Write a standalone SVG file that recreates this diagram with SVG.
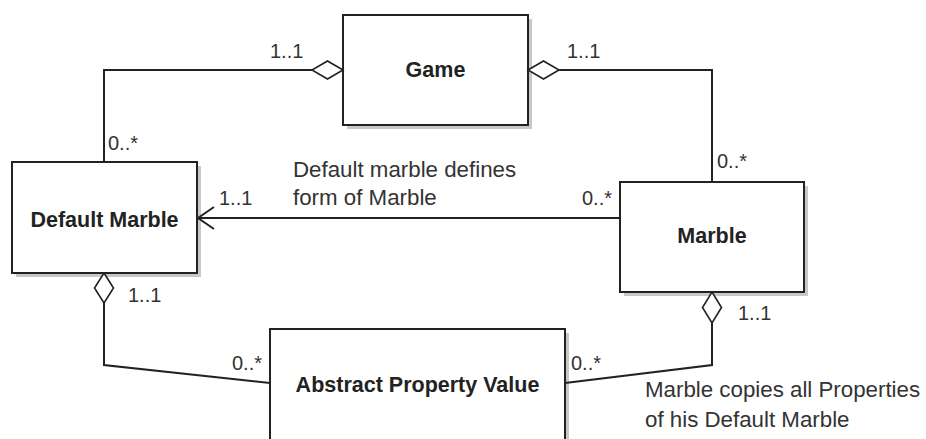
<svg xmlns="http://www.w3.org/2000/svg" width="926" height="439" viewBox="0 0 926 439">
  <style>
    .box { fill: #ffffff; stroke: #222222; stroke-width: 2; }
    .shadow { fill: #c8c8c8; }
    .name { font-family: "Liberation Sans", Arial, sans-serif; font-weight: bold; font-size: 21.5px; fill: #222222; text-anchor: middle; }
    .mult { font-family: "Liberation Sans", Arial, sans-serif; font-size: 20px; fill: #333333; }
    .note { font-family: "Liberation Sans", Arial, sans-serif; font-size: 22.3px; fill: #333333; }
    .line { fill: none; stroke: #222222; stroke-width: 2; }
    .diamond { fill: #ffffff; stroke: #222222; stroke-width: 1.6; }
  </style>

  <!-- classes -->
  <g id="game">
    <rect class="shadow" x="347" y="19" width="185" height="110"/>
    <rect class="box" x="343" y="15" width="185" height="110"/>
    <text class="name" x="435.5" y="77">Game</text>
  </g>
  <g id="default-marble">
    <rect class="shadow" x="16" y="166" width="185" height="111"/>
    <rect class="box" x="12" y="162" width="185" height="111"/>
    <text class="name" x="104.5" y="227">Default Marble</text>
  </g>
  <g id="marble">
    <rect class="shadow" x="624" y="186" width="184" height="110"/>
    <rect class="box" x="620" y="182" width="184" height="110"/>
    <text class="name" x="712" y="243">Marble</text>
  </g>
  <g id="abstract-property-value">
    <rect class="shadow" x="274" y="333" width="295" height="120"/>
    <rect class="box" x="270" y="329" width="295" height="120"/>
    <text class="name" x="417.5" y="392">Abstract Property Value</text>
  </g>

  <!-- associations -->
  <g id="connectors">
    <!-- Game <>— Default Marble -->
    <polyline class="line" points="312,70 104,70 104,162"/>
    <polygon class="diamond" points="343,70 327.5,61 312,70 327.5,79"/>
    <!-- Game <>— Marble -->
    <polyline class="line" points="559,70 712,70 712,182"/>
    <polygon class="diamond" points="528,70 543.5,61 559,70 543.5,79"/>
    <!-- Marble —> Default Marble -->
    <line class="line" x1="620" y1="218" x2="198" y2="218"/>
    <polyline class="line" points="214,207 198,218 214,229"/>
    <!-- Default Marble <>— Abstract Property Value -->
    <polyline class="line" points="104,303 104,365 270,383"/>
    <polygon class="diamond" points="104,273 113.5,288 104,303 94.5,288"/>
    <!-- Marble <>— Abstract Property Value -->
    <polyline class="line" points="712,323 712,365 565,383"/>
    <polygon class="diamond" points="712,292 721.5,307.5 712,323 702.5,307.5"/>
  </g>

  <!-- multiplicities and notes -->
  <g id="labels">
    <text class="mult" x="270" y="58">1..1</text>
    <text class="mult" x="108" y="150">0..*</text>
    <text class="mult" x="567" y="58">1..1</text>
    <text class="mult" x="717" y="168">0..*</text>
    <text class="mult" x="219" y="205">1..1</text>
    <text class="mult" x="582" y="205">0..*</text>
    <text class="mult" x="128" y="302">1..1</text>
    <text class="mult" x="232" y="370">0..*</text>
    <text class="mult" x="738" y="320">1..1</text>
    <text class="mult" x="571" y="370">0..*</text>
    <text class="note" x="293" y="177">Default marble defines</text>
    <text class="note" x="293" y="205">form of Marble</text>
    <text class="note" x="645" y="397">Marble copies all Properties</text>
    <text class="note" x="645" y="427">of his Default Marble</text>
  </g>
</svg>
